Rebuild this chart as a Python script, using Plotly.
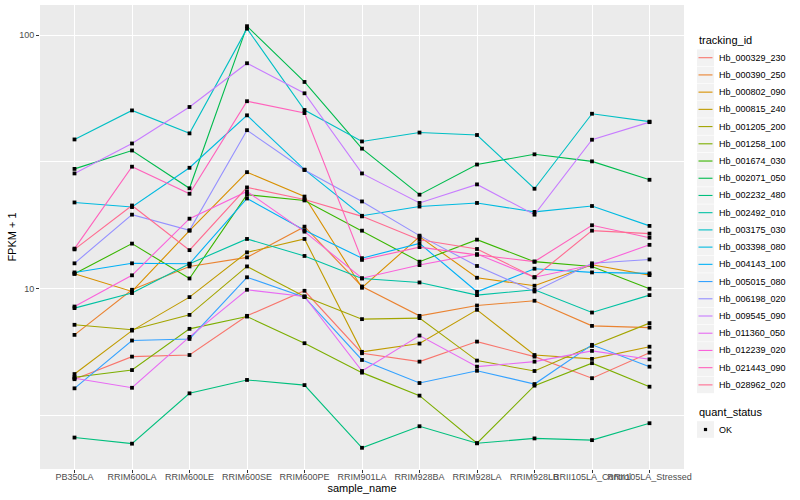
import plotly.graph_objects as go

samples = ["PB350LA", "RRIM600LA", "RRIM600LE", "RRIM600SE", "RRIM600PE",
           "RRIM901LA", "RRIM928BA", "RRIM928LA", "RRIM928LB",
           "RRII105LA_Control", "RRII105LA_Stressed"]

tracking_ids = ["Hb_000329_230", "Hb_000390_250", "Hb_000802_090", "Hb_000815_240",
                "Hb_001205_200", "Hb_001258_100", "Hb_001674_030", "Hb_002071_050",
                "Hb_002232_480", "Hb_002492_010", "Hb_003175_030", "Hb_003398_080",
                "Hb_004143_100", "Hb_005015_080", "Hb_006198_020", "Hb_009545_090",
                "Hb_011360_050", "Hb_012239_020", "Hb_021443_090", "Hb_028962_020"]

# FPKM + 1 values, one list per tracking_id (order of samples above)
hb_000329_230 = [4.40, 5.40, 5.48, 7.82, 9.82, 5.57, 5.16, 6.19, 5.40, 4.44, 5.60]
hb_000390_250 = [6.58, 9.91, 12.25, 13.30, 17.58, 10.21, 7.82, 8.59, 8.97, 7.14, 7.03]
hb_000802_090 = [11.46, 9.76, 16.95, 28.83, 23.10, 10.09, 16.05, 11.05, 10.28, 12.44, 11.32]
hb_000815_240 = [4.61, 6.84, 9.27, 13.92, 15.72, 5.64, 6.08, 8.26, 5.48, 5.29, 5.91]
hb_001205_200 = [7.21, 6.89, 7.89, 12.25, 9.32, 7.59, 7.66, 5.21, 4.74, 5.95, 7.32]
hb_001258_100 = [4.48, 4.78, 6.95, 7.77, 6.10, 4.67, 3.79, 2.46, 4.15, 5.09, 4.11]
hb_001674_030 = [11.46, 15.07, 10.98, 23.50, 22.30, 16.95, 12.79, 15.62, 12.79, 12.25, 10.00]
hb_002071_050 = [29.7, 35.1, 24.9, 108.5, 65.4, 35.7, 23.5, 30.9, 33.9, 31.8, 26.9]
hb_002232_480 = [2.59, 2.45, 3.87, 4.37, 4.17, 2.36, 2.87, 2.46, 2.57, 2.53, 2.95]
hb_002492_010 = [8.39, 9.62, 12.55, 15.72, 13.47, 10.98, 10.59, 9.44, 9.91, 8.06, 9.44]
hb_003175_030 = [38.8, 50.5, 41.0, 106.1, 50.7, 38.1, 41.3, 40.4, 24.8, 49.0, 45.6]
hb_003398_080 = [21.9, 21.0, 30.0, 48.3, 29.5, 19.4, 21.1, 21.8, 20.1, 21.2, 17.7]
hb_004143_100 = [11.6, 12.6, 12.55, 22.7, 17.0, 13.2, 15.1, 9.73, 12.0, 11.6, 11.5]
hb_005015_080 = [4.05, 6.25, 6.34, 11.1, 9.27, 5.24, 4.25, 4.75, 4.21, 6.01, 4.93]
hb_006198_020 = [12.6, 19.6, 17.0, 42.2, 29.4, 22.1, 16.2, 12.3, 9.76, 12.6, 13.05]
hb_009545_090 = [28.5, 37.4, 52.1, 77.5, 59.0, 28.5, 21.8, 25.8, 19.6, 38.7, 45.4]
hb_011360_050 = [4.44, 4.07, 6.46, 9.91, 9.32, 4.74, 6.54, 4.93, 5.16, 5.69, 5.27]
hb_012239_020 = [8.51, 11.3, 18.9, 24.2, 16.8, 11.0, 12.4, 13.7, 11.1, 12.4, 14.9]
hb_021443_090 = [14.4, 30.3, 23.7, 54.9, 49.3, 13.0, 14.6, 13.6, 12.8, 17.8, 15.9]
hb_028962_020 = [14.3, 21.3, 14.2, 25.1, 22.5, 19.3, 15.6, 14.35, 11.1, 16.95, 16.5]

series_values = [hb_000329_230, hb_000390_250, hb_000802_090, hb_000815_240,
                 hb_001205_200, hb_001258_100, hb_001674_030, hb_002071_050,
                 hb_002232_480, hb_002492_010, hb_003175_030, hb_003398_080,
                 hb_004143_100, hb_005015_080, hb_006198_020, hb_009545_090,
                 hb_011360_050, hb_012239_020, hb_021443_090, hb_028962_020]

colors = ["#F8766D", "#EA8331", "#D89000", "#C09B00", "#A3A500", "#7CAE00",
          "#39B600", "#00BB4E", "#00BF7D", "#00C1A3", "#00BFC4", "#00BAE0",
          "#00B0F6", "#35A2FF", "#9590FF", "#C77CFF", "#E76BF3", "#FA62DB",
          "#FF62BC", "#FF6C91"]

quant_status = ["OK"]

# ---- layout geometry (pixels of the 800x500 canvas) ----
W, H = 800, 500
PL, PR, PT, PB = 40, 684, 5, 469


def px(xp):
    return (xp - PL) / (PR - PL)


def py(yp):
    return (PB - yp) / (PB - PT)


FONT = "Liberation Sans, Arial, Helvetica, sans-serif"

fig = go.Figure()
for name, vals, col in zip(tracking_ids, series_values, colors):
    fig.add_trace(go.Scatter(x=samples, y=vals, mode="lines", name=name,
                             line=dict(color=col, width=1.1), showlegend=False))

all_x = [s for _ in series_values for s in samples]
all_y = [v for vals in series_values for v in vals]
fig.add_trace(go.Scatter(x=all_x, y=all_y, mode="markers", name=quant_status[0],
                         marker=dict(color="black", size=3.8, symbol="square"),
                         showlegend=False))

# ---- ggplot-style legends built from the same lists ----
shapes = []
annotations = []
key_l, key_r, text_x = 697, 714, 717
title_y, first_y, step = 40, 57.7, 17.22

annotations.append(dict(x=px(key_l), y=py(title_y), xref="paper", yref="paper",
                        text="tracking_id", showarrow=False, xanchor="left", yanchor="middle",
                        font=dict(family=FONT, size=11, color="black")))
for i, (name, col) in enumerate(zip(tracking_ids, colors)):
    cy = first_y + i * step
    shapes.append(dict(type="rect", xref="paper", yref="paper",
                       x0=px(key_l), x1=px(key_r), y0=py(cy - 8.3), y1=py(cy + 8.3),
                       fillcolor="#F2F2F2", line=dict(width=0), layer="above"))
    shapes.append(dict(type="line", xref="paper", yref="paper",
                       x0=px(key_l + 1.5), x1=px(key_r - 1.5), y0=py(cy), y1=py(cy),
                       line=dict(color=col, width=1.1), layer="above"))
    annotations.append(dict(x=px(text_x), y=py(cy), xref="paper", yref="paper",
                            text=name, showarrow=False, xanchor="left", yanchor="middle",
                            font=dict(family=FONT, size=9, color="black")))

qs_title_y, qs_item_y = 412, 429.5
annotations.append(dict(x=px(key_l), y=py(qs_title_y), xref="paper", yref="paper",
                        text="quant_status", showarrow=False, xanchor="left", yanchor="middle",
                        font=dict(family=FONT, size=11, color="black")))
for j, status in enumerate(quant_status):
    cy = qs_item_y + j * step
    shapes.append(dict(type="rect", xref="paper", yref="paper",
                       x0=px(key_l), x1=px(key_r), y0=py(cy - 8.3), y1=py(cy + 8.3),
                       fillcolor="#F2F2F2", line=dict(width=0), layer="above"))
    cx = (key_l + key_r) / 2
    shapes.append(dict(type="rect", xref="paper", yref="paper",
                       x0=px(cx - 1.6), x1=px(cx + 1.6), y0=py(cy - 1.6), y1=py(cy + 1.6),
                       fillcolor="black", line=dict(width=0), layer="above"))
    annotations.append(dict(x=px(text_x), y=py(cy), xref="paper", yref="paper",
                            text=status, showarrow=False, xanchor="left", yanchor="middle",
                            font=dict(family=FONT, size=9, color="black")))

fig.update_layout(
    width=W, height=H,
    margin=dict(l=PL, r=W - PR, t=PT, b=H - PB, autoexpand=False),
    paper_bgcolor="white", plot_bgcolor="#EBEBEB",
    font=dict(family=FONT, size=9, color="#4D4D4D"),
    showlegend=False,
    shapes=shapes, annotations=annotations,
    xaxis=dict(type="category", range=[-0.6, 10.6], showgrid=True, gridcolor="white",
               gridwidth=1.1, ticks="outside", ticklen=3, tickcolor="#333333",
               tickfont=dict(size=9, color="#4D4D4D"), tickangle=0, automargin=False,
               ticklabelstandoff=-4,
               title=dict(text="sample_name", font=dict(size=11, color="black"), standoff=1),
               zeroline=False, showline=False),
    yaxis=dict(type="log", range=[0.2893, 2.119], tickvals=[10, 100], ticktext=["10", "100"],
               showgrid=True, gridcolor="white", gridwidth=1.1, automargin=False,
               minor=dict(tickvals=[3.1623, 31.623], showgrid=True, gridcolor="white",
                          gridwidth=0.55, ticks=""),
               ticks="outside", ticklen=3, tickcolor="#333333",
               tickfont=dict(size=9, color="#4D4D4D"),
               title=dict(text="FPKM + 1", font=dict(size=11, color="black"), standoff=0),
               zeroline=False, showline=False),
)

fig.write_html("out.html", config={"displayModeBar": False},
               post_script="document.body.style.margin='0';document.body.style.padding='0';")
